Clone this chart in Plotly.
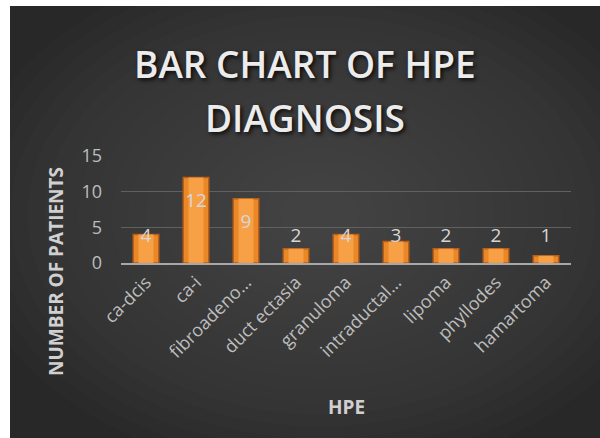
import plotly.graph_objects as go

# ---- data ----
categories = ["ca-dcis", "ca-i", "fibroadenoma", "duct ectasia", "granuloma",
              "intraductal papilloma", "lipoma", "phyllodes", "hamartoma"]
tick_labels = ["ca-dcis", "ca-i", "fibroadeno…", "duct ectasia", "granuloma",
               "intraductal…", "lipoma", "phyllodes", "hamartoma"]
patients = [4, 12, 9, 2, 4, 3, 2, 2, 1]
y_ticks = [0, 5, 10, 15]

title_lines = ["BAR CHART OF HPE", "DIAGNOSIS"]
x_title = "HPE"
y_title = "NUMBER OF PATIENTS"

# ---- geometry (pixels of the 600x438 page) ----
W, H = 600, 438
L, R, T, B = 121, 571, 156, 263

def fx(px):
    return (px - L) / (R - L)

def fy(py):
    return (B - py) / (B - T)

FONT = "Open Sans"

fig = go.Figure()
fig.add_trace(go.Bar(
    x=categories, y=patients, width=0.51,
    marker=dict(color="#EA8828", line=dict(color="#B85E18", width=1.5)),
    hoverinfo="skip", showlegend=False,
))
# centre highlight of each bar (same values, narrower)
fig.add_trace(go.Bar(
    x=categories, y=patients, width=0.3,
    marker=dict(color="rgba(250,165,75,0.85)", line=dict(width=0)),
    hoverinfo="skip", showlegend=False,
))
# data labels (inside end, clamped for short bars)
label_y = [max(v - 3.45, 3.56) for v in patients]
fig.add_trace(go.Scatter(
    x=categories, y=label_y, mode="text", text=[str(v) for v in patients],
    textfont=dict(family=FONT, size=19, color="#d6d6d6"),
    textposition="middle center", cliponaxis=False,
    hoverinfo="skip", showlegend=False,
))

shapes = []
# radial-ish gradient background
n = 20
cx, cy = 320, 215
for i in range(n):
    t = i / (n - 1)
    rx = 360 - t * 320
    ry = 260 - t * 230
    shapes.append(dict(type="circle", xref="paper", yref="paper", layer="below",
                       x0=fx(cx - rx), x1=fx(cx + rx), y0=fy(cy + ry), y1=fy(cy - ry),
                       fillcolor="rgba(112,112,112,0.04)", line=dict(width=0)))
# white border strips
shapes.append(dict(type="rect", xref="paper", yref="paper", layer="below",
                   x0=fx(-5), x1=fx(10), y0=fy(H + 5), y1=fy(-5),
                   fillcolor="white", line=dict(width=0)))
shapes.append(dict(type="rect", xref="paper", yref="paper", layer="below",
                   x0=fx(-5), x1=fx(W + 5), y0=fy(6), y1=fy(-5),
                   fillcolor="white", line=dict(width=0)))

title_font = dict(family=FONT, size=37, color="#ececec", weight=600,
                  shadow="2px 2px 4px rgba(0,0,0,0.85)")
annotations = [
    dict(text=title_lines[0], x=fx(305), y=fy(63), xref="paper", yref="paper",
         xanchor="center", yanchor="middle", showarrow=False, font=title_font),
    dict(text=title_lines[1], x=fx(305), y=fy(117), xref="paper", yref="paper",
         xanchor="center", yanchor="middle", showarrow=False, font=title_font),
    dict(text=x_title, x=0.5, y=fy(407), xref="paper", yref="paper",
         xanchor="center", yanchor="middle", showarrow=False,
         font=dict(family=FONT, size=19, color="#d0d0d0", weight="bold")),
    dict(text=y_title, x=fx(56), y=fy(272), xref="paper", yref="paper",
         xanchor="center", yanchor="middle", showarrow=False, textangle=-90,
         font=dict(family=FONT, size=19, color="#d0d0d0", weight="bold")),
]

fig.update_layout(
    template="none",
    width=W, height=H, autosize=False,
    margin=dict(l=L, r=W - R, t=T, b=H - B, pad=0),
    paper_bgcolor="#282828", plot_bgcolor="rgba(0,0,0,0)",
    barmode="overlay", showlegend=False,
    shapes=shapes, annotations=annotations,
    xaxis=dict(tickvals=categories, ticktext=tick_labels, tickangle=-45,
               tickfont=dict(family=FONT, size=18, color="#bdbdbd"),
               showgrid=False, showline=True, linecolor="#a8a8a8", linewidth=1.5,
               ticks="", automargin=False, zeroline=False),
    yaxis=dict(range=[0, 15], tickvals=y_ticks, showgrid=True, gridcolor="#606060",
               gridwidth=1, zeroline=False, showline=False, ticks="",
               tickfont=dict(family=FONT, size=18, color="#bdbdbd"),
               ticklabelstandoff=18, automargin=False),
)

fig.write_html("out.html", config={"displayModeBar": False},
               post_script="document.body.style.margin='0';document.body.style.overflow='hidden';")
